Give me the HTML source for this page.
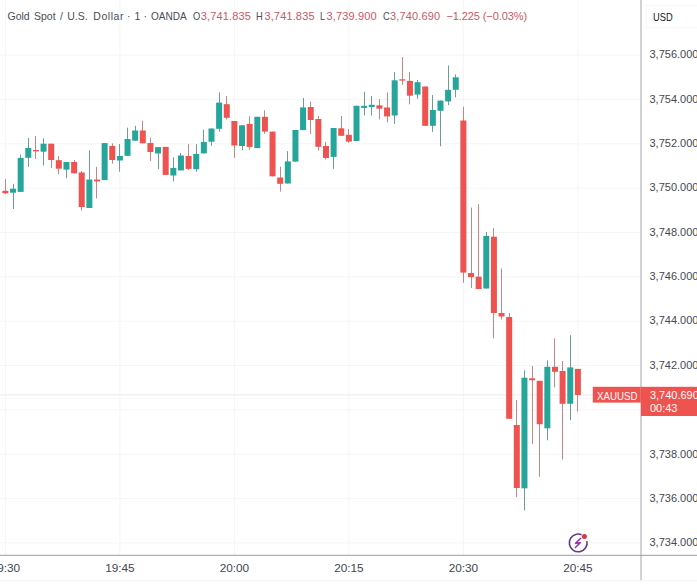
<!DOCTYPE html>
<html><head><meta charset="utf-8">
<style>
html,body{margin:0;padding:0;background:#fff;}
body{width:697px;height:588px;position:relative;overflow:hidden;font-family:"Liberation Sans",sans-serif;}
svg{position:absolute;left:0;top:0;}
.t{position:absolute;white-space:nowrap;line-height:1;}
.pl{position:absolute;left:649.5px;font-size:11px;line-height:13px;color:#464852;white-space:nowrap;}
.tl{position:absolute;top:561px;width:40px;text-align:center;font-size:11.8px;line-height:14px;color:#44464f;white-space:nowrap;}
</style></head><body>
<svg width="697" height="588" viewBox="0 0 697 588">
<rect x="4.90" y="0" width="1" height="555" fill="#f5f5f7"/>
<rect x="119.40" y="0" width="1" height="555" fill="#f5f5f7"/>
<rect x="233.89" y="0" width="1" height="555" fill="#f5f5f7"/>
<rect x="348.38" y="0" width="1" height="555" fill="#f5f5f7"/>
<rect x="462.88" y="0" width="1" height="555" fill="#f5f5f7"/>
<rect x="577.38" y="0" width="1" height="555" fill="#f5f5f7"/>
<rect x="0" y="54.60" width="641" height="1" fill="#f5f5f7"/>
<rect x="0" y="98.95" width="641" height="1" fill="#f5f5f7"/>
<rect x="0" y="143.30" width="641" height="1" fill="#f5f5f7"/>
<rect x="0" y="187.65" width="641" height="1" fill="#f5f5f7"/>
<rect x="0" y="232.00" width="641" height="1" fill="#f5f5f7"/>
<rect x="0" y="276.35" width="641" height="1" fill="#f5f5f7"/>
<rect x="0" y="320.70" width="641" height="1" fill="#f5f5f7"/>
<rect x="0" y="365.05" width="641" height="1" fill="#f5f5f7"/>
<rect x="0" y="409.40" width="641" height="1" fill="#f5f5f7"/>
<rect x="0" y="453.75" width="641" height="1" fill="#f5f5f7"/>
<rect x="0" y="498.10" width="641" height="1" fill="#f5f5f7"/>
<rect x="0" y="542.45" width="641" height="1" fill="#f5f5f7"/>
<rect x="0" y="394.4" width="641" height="1" fill="#eaeaea"/>
<rect x="0" y="397.9" width="641" height="1" fill="#f7f7f7"/>
<rect x="5" y="179.2" width="1" height="14.8" fill="#c48686"/>
<rect x="2.40" y="190.8" width="6.0" height="2.5" fill="#ef5350"/>
<rect x="13" y="183.8" width="1" height="25.2" fill="#6a9e98"/>
<rect x="10.03" y="188.7" width="6.0" height="4.0" fill="#26a69a"/>
<rect x="20" y="154.6" width="1" height="37.3" fill="#6a9e98"/>
<rect x="17.67" y="157.9" width="6.0" height="34.0" fill="#26a69a"/>
<rect x="28" y="138.0" width="1" height="28.9" fill="#6a9e98"/>
<rect x="25.30" y="148.0" width="6.0" height="9.8" fill="#26a69a"/>
<rect x="35" y="136.0" width="1" height="23.0" fill="#c48686"/>
<rect x="32.93" y="150.0" width="6.0" height="1.4" fill="#ef5350"/>
<rect x="43" y="138.4" width="1" height="27.0" fill="#6a9e98"/>
<rect x="40.56" y="143.7" width="6.0" height="8.0" fill="#26a69a"/>
<rect x="51" y="143.7" width="1" height="24.2" fill="#c48686"/>
<rect x="48.20" y="143.7" width="6.0" height="16.3" fill="#ef5350"/>
<rect x="58" y="156.0" width="1" height="18.2" fill="#c48686"/>
<rect x="55.83" y="160.2" width="6.0" height="8.5" fill="#ef5350"/>
<rect x="66" y="162.0" width="1" height="16.2" fill="#6a9e98"/>
<rect x="63.46" y="162.0" width="6.0" height="7.6" fill="#26a69a"/>
<rect x="74" y="160.0" width="1" height="13.4" fill="#c48686"/>
<rect x="71.10" y="162.0" width="6.0" height="11.4" fill="#ef5350"/>
<rect x="81" y="171.0" width="1" height="39.5" fill="#c48686"/>
<rect x="78.73" y="172.5" width="6.0" height="34.5" fill="#ef5350"/>
<rect x="89" y="150.4" width="1" height="57.6" fill="#6a9e98"/>
<rect x="86.36" y="179.5" width="6.0" height="28.5" fill="#26a69a"/>
<rect x="96" y="166.9" width="1" height="31.5" fill="#c48686"/>
<rect x="94.00" y="179.5" width="6.0" height="1.9" fill="#ef5350"/>
<rect x="104" y="143.1" width="1" height="37.0" fill="#6a9e98"/>
<rect x="101.63" y="143.1" width="6.0" height="37.0" fill="#26a69a"/>
<rect x="112" y="143.4" width="1" height="20.2" fill="#c48686"/>
<rect x="109.26" y="145.9" width="6.0" height="14.1" fill="#ef5350"/>
<rect x="119" y="144.0" width="1" height="27.7" fill="#6a9e98"/>
<rect x="116.90" y="156.0" width="6.0" height="4.5" fill="#26a69a"/>
<rect x="127" y="127.7" width="1" height="28.1" fill="#6a9e98"/>
<rect x="124.53" y="139.0" width="6.0" height="16.8" fill="#26a69a"/>
<rect x="135" y="125.8" width="1" height="14.9" fill="#6a9e98"/>
<rect x="132.16" y="130.5" width="6.0" height="10.2" fill="#26a69a"/>
<rect x="142" y="120.7" width="1" height="22.6" fill="#c48686"/>
<rect x="139.79" y="130.5" width="6.0" height="12.8" fill="#ef5350"/>
<rect x="150" y="137.7" width="1" height="23.2" fill="#c48686"/>
<rect x="147.43" y="143.0" width="6.0" height="9.0" fill="#ef5350"/>
<rect x="158" y="147.1" width="1" height="22.1" fill="#6a9e98"/>
<rect x="155.06" y="147.1" width="6.0" height="6.4" fill="#26a69a"/>
<rect x="165" y="146.9" width="1" height="28.0" fill="#c48686"/>
<rect x="162.69" y="146.9" width="6.0" height="28.0" fill="#ef5350"/>
<rect x="173" y="157.3" width="1" height="24.0" fill="#6a9e98"/>
<rect x="170.33" y="167.9" width="6.0" height="7.6" fill="#26a69a"/>
<rect x="180" y="153.0" width="1" height="17.4" fill="#6a9e98"/>
<rect x="177.96" y="155.5" width="6.0" height="14.9" fill="#26a69a"/>
<rect x="188" y="144.2" width="1" height="25.8" fill="#c48686"/>
<rect x="185.59" y="156.0" width="6.0" height="12.9" fill="#ef5350"/>
<rect x="196" y="144.2" width="1" height="27.4" fill="#6a9e98"/>
<rect x="193.22" y="153.9" width="6.0" height="15.3" fill="#26a69a"/>
<rect x="203" y="129.6" width="1" height="23.8" fill="#6a9e98"/>
<rect x="200.86" y="142.0" width="6.0" height="11.4" fill="#26a69a"/>
<rect x="211" y="128.5" width="1" height="17.3" fill="#6a9e98"/>
<rect x="208.49" y="128.5" width="6.0" height="13.2" fill="#26a69a"/>
<rect x="219" y="92.4" width="1" height="39.3" fill="#6a9e98"/>
<rect x="216.12" y="102.6" width="6.0" height="26.2" fill="#26a69a"/>
<rect x="226" y="96.1" width="1" height="23.3" fill="#c48686"/>
<rect x="223.76" y="104.2" width="6.0" height="13.6" fill="#ef5350"/>
<rect x="234" y="121.0" width="1" height="36.9" fill="#c48686"/>
<rect x="231.39" y="121.0" width="6.0" height="24.5" fill="#ef5350"/>
<rect x="242" y="125.3" width="1" height="25.0" fill="#6a9e98"/>
<rect x="239.02" y="125.3" width="6.0" height="20.7" fill="#26a69a"/>
<rect x="249" y="116.3" width="1" height="33.5" fill="#c48686"/>
<rect x="246.66" y="123.9" width="6.0" height="23.0" fill="#ef5350"/>
<rect x="257" y="116.8" width="1" height="31.3" fill="#6a9e98"/>
<rect x="254.29" y="116.8" width="6.0" height="31.3" fill="#26a69a"/>
<rect x="264" y="110.3" width="1" height="23.5" fill="#c48686"/>
<rect x="261.92" y="116.8" width="6.0" height="14.8" fill="#ef5350"/>
<rect x="272" y="131.6" width="1" height="44.7" fill="#c48686"/>
<rect x="269.55" y="131.6" width="6.0" height="44.7" fill="#ef5350"/>
<rect x="280" y="166.5" width="1" height="25.1" fill="#c48686"/>
<rect x="277.19" y="177.5" width="6.0" height="6.3" fill="#ef5350"/>
<rect x="287" y="151.2" width="1" height="32.3" fill="#6a9e98"/>
<rect x="284.82" y="161.4" width="6.0" height="22.1" fill="#26a69a"/>
<rect x="295" y="130.0" width="1" height="31.6" fill="#6a9e98"/>
<rect x="292.45" y="130.0" width="6.0" height="31.6" fill="#26a69a"/>
<rect x="303" y="98.0" width="1" height="32.1" fill="#6a9e98"/>
<rect x="300.09" y="107.4" width="6.0" height="22.7" fill="#26a69a"/>
<rect x="310" y="101.6" width="1" height="32.2" fill="#c48686"/>
<rect x="307.72" y="107.0" width="6.0" height="13.0" fill="#ef5350"/>
<rect x="318" y="116.0" width="1" height="34.7" fill="#c48686"/>
<rect x="315.35" y="119.0" width="6.0" height="27.8" fill="#ef5350"/>
<rect x="325" y="142.0" width="1" height="17.4" fill="#c48686"/>
<rect x="322.99" y="146.0" width="6.0" height="12.0" fill="#ef5350"/>
<rect x="333" y="128.0" width="1" height="40.8" fill="#6a9e98"/>
<rect x="330.62" y="128.0" width="6.0" height="28.9" fill="#26a69a"/>
<rect x="341" y="116.0" width="1" height="19.8" fill="#c48686"/>
<rect x="338.25" y="128.3" width="6.0" height="7.5" fill="#ef5350"/>
<rect x="348" y="129.0" width="1" height="13.8" fill="#c48686"/>
<rect x="345.88" y="134.8" width="6.0" height="6.8" fill="#ef5350"/>
<rect x="356" y="105.8" width="1" height="35.2" fill="#6a9e98"/>
<rect x="353.52" y="105.8" width="6.0" height="35.2" fill="#26a69a"/>
<rect x="364" y="91.7" width="1" height="23.8" fill="#6a9e98"/>
<rect x="361.15" y="105.8" width="6.0" height="2.1" fill="#26a69a"/>
<rect x="371" y="96.0" width="1" height="19.5" fill="#6a9e98"/>
<rect x="368.78" y="104.8" width="6.0" height="2.2" fill="#26a69a"/>
<rect x="379" y="99.3" width="1" height="20.1" fill="#c48686"/>
<rect x="376.42" y="105.3" width="6.0" height="3.4" fill="#ef5350"/>
<rect x="387" y="92.5" width="1" height="29.8" fill="#c48686"/>
<rect x="384.05" y="107.5" width="6.0" height="8.9" fill="#ef5350"/>
<rect x="394" y="72.1" width="1" height="51.9" fill="#6a9e98"/>
<rect x="391.68" y="80.3" width="6.0" height="35.2" fill="#26a69a"/>
<rect x="402" y="57.1" width="1" height="27.8" fill="#c48686"/>
<rect x="399.32" y="79.3" width="6.0" height="1.3" fill="#ef5350"/>
<rect x="409" y="72.0" width="1" height="32.3" fill="#c48686"/>
<rect x="406.95" y="80.9" width="6.0" height="14.8" fill="#ef5350"/>
<rect x="417" y="80.0" width="1" height="18.7" fill="#6a9e98"/>
<rect x="414.58" y="82.2" width="6.0" height="12.4" fill="#26a69a"/>
<rect x="425" y="86.5" width="1" height="39.3" fill="#c48686"/>
<rect x="422.21" y="86.5" width="6.0" height="39.3" fill="#ef5350"/>
<rect x="432" y="95.1" width="1" height="36.7" fill="#6a9e98"/>
<rect x="429.85" y="110.0" width="6.0" height="15.8" fill="#26a69a"/>
<rect x="440" y="100.6" width="1" height="45.7" fill="#6a9e98"/>
<rect x="437.48" y="100.6" width="6.0" height="10.2" fill="#26a69a"/>
<rect x="448" y="65.5" width="1" height="39.6" fill="#6a9e98"/>
<rect x="445.11" y="89.8" width="6.0" height="11.6" fill="#26a69a"/>
<rect x="455" y="74.4" width="1" height="23.0" fill="#6a9e98"/>
<rect x="452.75" y="77.3" width="6.0" height="12.5" fill="#26a69a"/>
<rect x="463" y="106.7" width="1" height="176.0" fill="#c48686"/>
<rect x="460.38" y="120.5" width="6.0" height="152.1" fill="#ef5350"/>
<rect x="471" y="207.6" width="1" height="80.4" fill="#c48686"/>
<rect x="468.01" y="273.0" width="6.0" height="4.2" fill="#ef5350"/>
<rect x="478" y="204.2" width="1" height="84.8" fill="#c48686"/>
<rect x="475.65" y="276.7" width="6.0" height="12.3" fill="#ef5350"/>
<rect x="486" y="232.0" width="1" height="56.5" fill="#6a9e98"/>
<rect x="483.28" y="235.9" width="6.0" height="52.6" fill="#26a69a"/>
<rect x="493" y="228.2" width="1" height="110.2" fill="#c48686"/>
<rect x="490.91" y="236.7" width="6.0" height="76.3" fill="#ef5350"/>
<rect x="501" y="268.6" width="1" height="50.9" fill="#c48686"/>
<rect x="498.54" y="313.0" width="6.0" height="3.5" fill="#ef5350"/>
<rect x="509" y="313.0" width="1" height="105.8" fill="#c48686"/>
<rect x="506.18" y="317.0" width="6.0" height="101.8" fill="#ef5350"/>
<rect x="516" y="400.0" width="1" height="97.1" fill="#c48686"/>
<rect x="513.81" y="425.0" width="6.0" height="63.0" fill="#ef5350"/>
<rect x="524" y="370.3" width="1" height="140.1" fill="#6a9e98"/>
<rect x="521.44" y="377.7" width="6.0" height="110.6" fill="#26a69a"/>
<rect x="532" y="366.0" width="1" height="78.0" fill="#c48686"/>
<rect x="529.08" y="378.3" width="6.0" height="1.9" fill="#ef5350"/>
<rect x="539" y="380.8" width="1" height="95.9" fill="#c48686"/>
<rect x="536.71" y="380.8" width="6.0" height="43.4" fill="#ef5350"/>
<rect x="547" y="360.3" width="1" height="80.0" fill="#6a9e98"/>
<rect x="544.34" y="366.8" width="6.0" height="61.5" fill="#26a69a"/>
<rect x="554" y="338.4" width="1" height="49.0" fill="#c48686"/>
<rect x="551.98" y="366.8" width="6.0" height="5.0" fill="#ef5350"/>
<rect x="562" y="361.0" width="1" height="98.5" fill="#c48686"/>
<rect x="559.61" y="371.0" width="6.0" height="32.8" fill="#ef5350"/>
<rect x="570" y="335.2" width="1" height="85.1" fill="#6a9e98"/>
<rect x="567.24" y="367.4" width="6.0" height="36.4" fill="#26a69a"/>
<rect x="577" y="368.9" width="1" height="42.6" fill="#c48686"/>
<rect x="574.88" y="368.9" width="6.0" height="26.1" fill="#ef5350"/>
<rect x="640" y="0" width="2" height="580.5" fill="#d2d2d4"/>
<rect x="0" y="554.8" width="697" height="1" fill="#9c9ea4"/>
<rect x="0" y="580.3" width="697" height="1" fill="#f3f3f3"/>
<rect x="646" y="5.3" width="60" height="22.5" fill="none" stroke="#f5f5f5" stroke-width="1"/>
<rect x="592.8" y="386.8" width="48" height="15.8" fill="#ef5350"/>
<rect x="641" y="386.8" width="56" height="29.2" fill="#ef5350"/>
<circle cx="578.2" cy="542.9" r="10.5" fill="#fff"/>
<circle cx="578.2" cy="542.9" r="8.9" fill="none" stroke="#663c88" stroke-width="1.6" stroke-dasharray="47 9" transform="rotate(-12 578.2 542.9)"/>
<circle cx="584.4" cy="536.6" r="2.5" fill="#d9363e"/>
<path d="M580.7 538.3 L575.6 543.3 L580.3 542.7 L575.4 547.6" fill="none" stroke="#9c27b0" stroke-width="1.45" stroke-linejoin="round" stroke-linecap="round"/>
</svg>
<div class="pl" style="top:48.3px">3,756.000</div>
<div class="pl" style="top:92.7px">3,754.000</div>
<div class="pl" style="top:137.0px">3,752.000</div>
<div class="pl" style="top:181.4px">3,750.000</div>
<div class="pl" style="top:225.7px">3,748.000</div>
<div class="pl" style="top:270.1px">3,746.000</div>
<div class="pl" style="top:314.4px">3,744.000</div>
<div class="pl" style="top:358.8px">3,742.000</div>
<div class="pl" style="top:447.5px">3,738.000</div>
<div class="pl" style="top:491.8px">3,736.000</div>
<div class="pl" style="top:536.1px">3,734.000</div>
<div class="tl" style="left:-14.6px">19:30</div>
<div class="tl" style="left:99.9px">19:45</div>
<div class="tl" style="left:214.4px">20:00</div>
<div class="tl" style="left:328.9px">20:15</div>
<div class="tl" style="left:443.4px">20:30</div>
<div class="tl" style="left:557.9px">20:45</div>
<div class="t" style="left:7.5px;top:11px;font-size:10.5px;color:#4a4d57;word-spacing:1.4px">Gold Spot / U.S.</div>
<div class="t" style="left:93.3px;top:11px;font-size:10.5px;color:#4a4d57;letter-spacing:0.55px">Dollar</div>
<div class="t" style="left:127px;top:11px;font-size:10.5px;color:#4a4d57">·</div>
<div class="t" style="left:134.6px;top:11px;font-size:10.5px;color:#4a4d57">1</div>
<div class="t" style="left:143.5px;top:11px;font-size:10.5px;color:#4a4d57">·</div>
<div class="t" style="left:150.9px;top:11px;font-size:10.5px;color:#4a4d57;transform:scaleX(0.955);transform-origin:0 0">OANDA</div>
<div class="t" style="left:192.9px;top:10.8px;font-size:11px;color:#4a4d57;transform:scaleX(0.85);transform-origin:0 0">O</div>
<div class="t" style="left:200.8px;top:10.8px;font-size:11px;color:#cc5862;letter-spacing:0.15px">3,741.835</div>
<div class="t" style="left:255.7px;top:10.8px;font-size:11px;color:#4a4d57;transform:scaleX(0.85);transform-origin:0 0">H</div>
<div class="t" style="left:264.4px;top:10.8px;font-size:11px;color:#cc5862;letter-spacing:0.15px">3,741.835</div>
<div class="t" style="left:319.8px;top:10.8px;font-size:11px;color:#4a4d57;transform:scaleX(0.85);transform-origin:0 0">L</div>
<div class="t" style="left:326.5px;top:10.8px;font-size:11px;color:#cc5862;letter-spacing:0.15px">3,739.900</div>
<div class="t" style="left:383.2px;top:10.8px;font-size:11px;color:#4a4d57;transform:scaleX(0.85);transform-origin:0 0">C</div>
<div class="t" style="left:390px;top:10.8px;font-size:11px;color:#cc5862;letter-spacing:0.15px">3,740.690</div>
<div class="t" style="left:446.5px;top:10.8px;font-size:11px;color:#cc5862;letter-spacing:-0.1px">−1.225 (−0.03%)</div>
<div class="t" style="left:653.1px;top:12px;font-size:10.7px;color:#131722;transform:scaleX(0.87);transform-origin:0 0">USD</div>
<div class="t" style="left:596.9px;top:390.5px;font-size:10.5px;color:#fff;transform:scaleX(0.925);transform-origin:0 0">XAUUSD</div>
<div class="t" style="left:649.9px;top:389.5px;font-size:11px;color:#fff">3,740.690</div>
<div class="t" style="left:649.9px;top:403px;font-size:11px;color:#fff">00:43</div>
</body></html>
